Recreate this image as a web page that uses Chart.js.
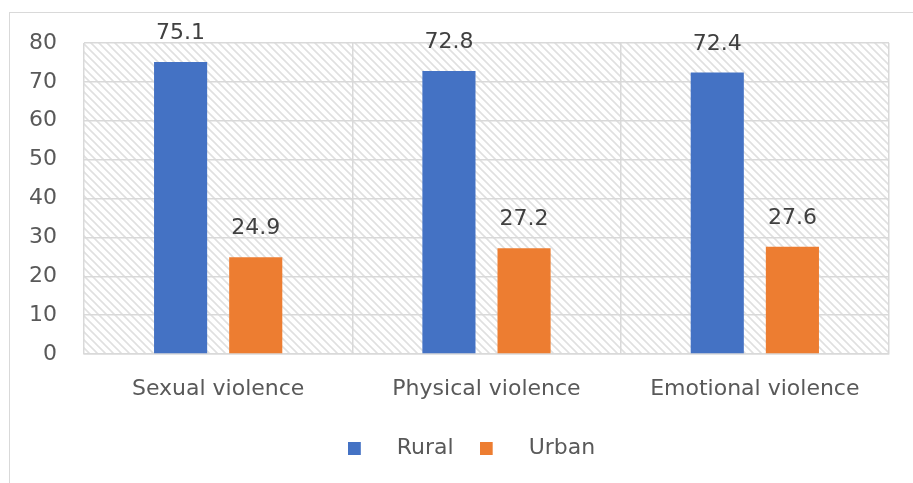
<!DOCTYPE html>
<html>
<head>
<meta charset="utf-8">
<script src="https://cdn.jsdelivr.net/npm/chart.js@4"></script>
<style>
    html, body { margin: 0; padding: 0; background: #ffffff; overflow: hidden; }
    #wrap { position: relative; width: 913px; height: 483px; }
    #frame { position: absolute; left: 9px; top: 12px; width: 940px; height: 500px; border: 1.5px solid #d9d9d9; box-sizing: border-box; }
    #myChart { position: absolute; left: 0; top: 0; }
</style>
</head>
<body>
<div id="wrap">
    <div id="frame"></div>
    <canvas id="myChart" width="913" height="483"></canvas>
</div>
<script>
const categories = ['Sexual violence', 'Physical violence', 'Emotional violence'];
const ruralValues = [75.1, 72.8, 72.4];
const urbanValues = [24.9, 27.2, 27.6];
const yTicks = [0, 10, 20, 30, 40, 50, 60, 70, 80];

const FONT = 'DejaVu Sans';
const GRID = '#d9d9d9';

// legend swatch: small square on the left, empty space to the right (Excel-like gap)
function legendSwatch(color) {
    const c = document.createElement('canvas');
    c.width = 38;
    c.height = 13;
    const g = c.getContext('2d');
    g.fillStyle = color;
    g.fillRect(0, 0, 13, 13);
    return c;
}

// diagonal hatch for the plot background
function hatchPattern(ctx) {
    const t = document.createElement('canvas');
    t.width = 8;
    t.height = 8;
    const g = t.getContext('2d');
    g.strokeStyle = '#e0e0e0';
    g.lineWidth = 1.6;
    g.beginPath();
    g.moveTo(-1, -1); g.lineTo(9, 9);
    g.moveTo(7, -1); g.lineTo(9, 1);
    g.moveTo(-1, 7); g.lineTo(1, 9);
    g.stroke();
    return ctx.createPattern(t, 'repeat');
}

const plotBackground = {
    id: 'plotBackground',
    beforeDraw(chart) {
        const { ctx, chartArea } = chart;
        ctx.save();
        ctx.fillStyle = hatchPattern(ctx);
        ctx.fillRect(chartArea.left, chartArea.top, chartArea.right - chartArea.left, chartArea.bottom - chartArea.top);
        ctx.restore();
    }
};

// legend sits a bit right of the canvas centre in the original
const legendShift = {
    id: 'legendShift',
    afterLayout(chart) {
        chart.legend.left += 27;
        chart.legend.right += 27;
    }
};

const valueLabels = {
    id: 'valueLabels',
    afterDatasetsDraw(chart) {
        const ctx = chart.ctx;
        ctx.save();
        ctx.font = '22px "' + FONT + '"';
        ctx.fillStyle = '#404040';
        ctx.textAlign = 'center';
        ctx.textBaseline = 'alphabetic';
        chart.data.datasets.forEach((ds, i) => {
            chart.getDatasetMeta(i).data.forEach((bar, j) => {
                ctx.fillText(ds.data[j].toFixed(1), bar.x, bar.y - 23);
            });
        });
        ctx.restore();
    }
};

const data = {
    labels: categories,
    datasets: [
        { label: 'Rural', data: ruralValues, backgroundColor: '#4472C4', pointStyle: legendSwatch('#4472C4') },
        { label: 'Urban', data: urbanValues, backgroundColor: '#ED7D31', pointStyle: legendSwatch('#ED7D31') }
    ]
};

const config = {
    type: 'bar',
    data: data,
    options: {
        responsive: false,
        animation: false,
        categoryPercentage: 0.56,
        barPercentage: 0.707,
        layout: { padding: { top: 43, right: 24, left: 0, bottom: 14 } },
        plugins: {
            legend: {
                position: 'bottom',
                labels: {
                    usePointStyle: true,
                    pointStyleWidth: 38,
                    padding: 26,
                    color: '#595959',
                    font: { family: FONT, size: 22 },
                    generateLabels(chart) {
                        return chart.data.datasets.map((ds, i) => ({
                            text: ds.label,
                            fillStyle: ds.backgroundColor,
                            strokeStyle: ds.backgroundColor,
                            lineWidth: 0,
                            pointStyle: ds.pointStyle,
                            fontColor: '#595959',
                            hidden: false,
                            datasetIndex: i
                        }));
                    }
                }
            },
            tooltip: { enabled: false }
        },
        scales: {
            x: {
                grid: { color: GRID, lineWidth: 1.5, drawTicks: false, offset: true },
                border: { color: GRID, width: 1.5 },
                ticks: { color: '#595959', padding: 22, font: { family: FONT, size: 22 } },
                afterFit(axis) { axis.height = 57; }
            },
            y: {
                min: 0,
                max: 80,
                afterBuildTicks(axis) { axis.ticks = yTicks.map(v => ({ value: v })); },
                grid: { color: GRID, lineWidth: 1.5, drawTicks: false },
                border: { display: false },
                ticks: { color: '#595959', padding: 27, font: { family: FONT, size: 22 } },
                afterFit(axis) { axis.width = 84; }
            }
        }
    },
    plugins: [plotBackground, legendShift, valueLabels]
};

const ctx = document.getElementById('myChart').getContext('2d');
window.myChartInstance = new Chart(ctx, config);
</script>
</body>
</html>
